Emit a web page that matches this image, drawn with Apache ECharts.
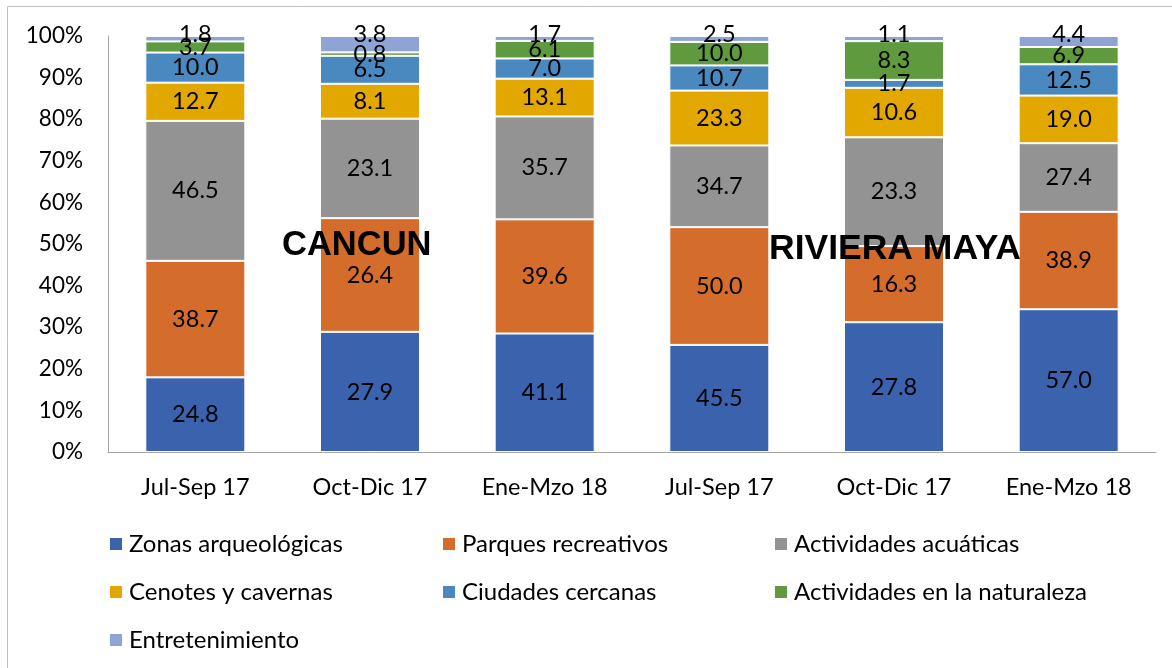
<!DOCTYPE html>
<html>
<head>
<meta charset="utf-8">
<script src="https://cdn.jsdelivr.net/npm/echarts@6/dist/echarts.min.js"></script>
<style>
  html, body { margin: 0; padding: 0; background: #fff; }
  #chart { width: 1172px; height: 668px; }
</style>
</head>
<body>
<div id="chart"></div>
<script>
const categories = ['Jul-Sep 17', 'Oct-Dic 17', 'Ene-Mzo 18', 'Jul-Sep 17', 'Oct-Dic 17', 'Ene-Mzo 18'];
const seriesNames = ['Zonas arqueológicas', 'Parques recreativos', 'Actividades acuáticas',
  'Cenotes y cavernas', 'Ciudades cercanas', 'Actividades en la naturaleza', 'Entretenimiento'];
const zonas = [24.8, 27.9, 41.1, 45.5, 27.8, 57.0];
const parques = [38.7, 26.4, 39.6, 50.0, 16.3, 38.9];
const acuaticas = [46.5, 23.1, 35.7, 34.7, 23.3, 27.4];
const cenotes = [12.7, 8.1, 13.1, 23.3, 10.6, 19.0];
const ciudades = [10.0, 6.5, 7.0, 10.7, 1.7, 12.5];
const naturaleza = [3.7, 0.8, 6.1, 10.0, 8.3, 6.9];
const entretenimiento = [1.8, 3.8, 1.7, 2.5, 1.1, 4.4];
const yTicks = [0, 10, 20, 30, 40, 50, 60, 70, 80, 90, 100];

const raw = [zonas, parques, acuaticas, cenotes, ciudades, naturaleza, entretenimiento];
const colors = ['#3A62AD', '#D46C2B', '#939393', '#E3A800', '#4A89C0', '#5F9A3E', '#8FA4D5'];
const totals = categories.map((c, i) => raw.reduce((s, arr) => s + arr[i], 0));
const FONT = 'Lato';

const series = raw.map((arr, k) => ({
  name: seriesNames[k],
  type: 'bar',
  stack: 'total',
  barWidth: 100,
  itemStyle: { color: colors[k], borderColor: '#ffffff', borderWidth: 1 },
  data: arr.map((v, i) => v / totals[i] * 100),
  label: {
    show: true,
    position: k === 6 ? 'top' : 'inside',
    distance: k === 6 ? -10 : 5,
    color: '#000',
    fontFamily: FONT,
    fontSize: 23.5,
    formatter: p => arr[p.dataIndex].toFixed(1)
  }
}));

const chart = echarts.init(document.getElementById('chart'), null, { renderer: 'canvas' });
const legendCommon = {
  orient: 'vertical',
  top: 527,
  itemGap: 24,
  itemWidth: 14,
  itemHeight: 14,
  icon: 'rect',
  textStyle: { fontFamily: FONT, fontSize: 24, color: '#000', padding: [0, 0, 0, 1] }
};
chart.setOption({
  animation: false,
  backgroundColor: '#fff',
  grid: { left: 108, right: 16, top: 36, bottom: 216, containLabel: false },
  xAxis: {
    type: 'category',
    data: categories,
    axisLine: { show: true, lineStyle: { color: '#a6a6a6', width: 1 } },
    axisTick: { show: false },
    axisLabel: { color: '#000', fontFamily: FONT, fontSize: 23.5, margin: 23 }
  },
  yAxis: {
    type: 'value',
    min: yTicks[0],
    max: yTicks[yTicks.length - 1],
    interval: yTicks[1] - yTicks[0],
    axisLine: { show: true, lineStyle: { color: '#a6a6a6', width: 1 } },
    axisTick: { show: false },
    splitLine: { show: false },
    axisLabel: { color: '#000', fontFamily: FONT, fontSize: 22.5, margin: 25, formatter: '{value}%' }
  },
  legend: [
    Object.assign({}, legendCommon, { left: 103, data: [seriesNames[0], seriesNames[3], seriesNames[6]] }),
    Object.assign({}, legendCommon, { left: 436, data: [seriesNames[1], seriesNames[4]] }),
    Object.assign({}, legendCommon, { left: 768, data: [seriesNames[2], seriesNames[5]] })
  ],
  series: series,
  graphic: [
    { type: 'line', shape: { x1: 7.5, y1: 6.5, x2: 1172, y2: 6.5 }, style: { stroke: '#bfbfbf', lineWidth: 1 }, silent: true },
    { type: 'line', shape: { x1: 7.5, y1: 6.5, x2: 7.5, y2: 668 }, style: { stroke: '#bfbfbf', lineWidth: 1 }, silent: true },
    { type: 'text', left: 282, top: 228, z: 100,
      style: { text: 'CANCUN', font: 'bold 34.5px "Liberation Sans", Arial, sans-serif', fill: '#000' } },
    { type: 'text', left: 769, top: 231, z: 100,
      style: { text: 'RIVIERA MAYA', font: 'bold 35.5px "Liberation Sans", Arial, sans-serif', fill: '#000' } }
  ]
});
</script>
</body>
</html>
